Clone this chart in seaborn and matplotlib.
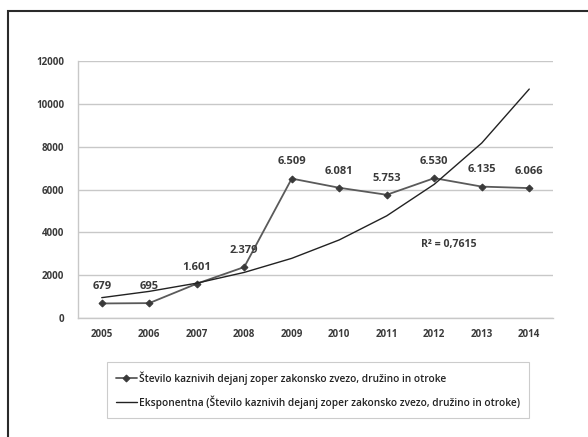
import numpy as np
import pandas as pd
import matplotlib.pyplot as plt
import seaborn as sns
from matplotlib.patches import Rectangle

# Data
years = ['2005', '2006', '2007', '2008', '2009', '2010', '2011', '2012', '2013', '2014']
cases = [679, 695, 1601, 2379, 6509, 6081, 5753, 6530, 6135, 6066]
case_labels = ['679', '695', '1.601', '2.379', '6.509', '6.081', '5.753', '6.530', '6.135', '6.066']
# exponential trendline values
trend = [950, 1243, 1627, 2129, 2786, 3646, 4771, 6243, 8170, 10690]
y_ticks = [0, 2000, 4000, 6000, 8000, 10000, 12000]
r2_text = 'R² = 0,7615'
series_name = 'Število kaznivih dejanj zoper zakonsko zvezo, družino in otroke'
trend_name = 'Eksponentna (Število kaznivih dejanj zoper zakonsko zvezo, družino in otroke)'

df = pd.DataFrame({'idx': range(len(years)), 'cases': cases, 'trend': trend})

sns.set_style('white')
plt.rcParams['font.family'] = ['Open Sans', 'DejaVu Sans']
text_col = '#3a3a3a'
grid_col = '#c8c8c8'

fig = plt.figure(figsize=(5.88, 4.37), dpi=100)
ax = fig.add_axes([78 / 588, 1 - 318 / 437, (553 - 78) / 588, (318 - 61) / 437])

sns.lineplot(data=df, x='idx', y='cases', ax=ax, color='#5a5a5a', lw=1.3,
             marker='D', markersize=3.5, markeredgecolor='#3a3a3a', markerfacecolor='#3a3a3a',
             label=series_name)
sns.lineplot(data=df, x='idx', y='trend', ax=ax, color='#222222', lw=1.0,
             label=trend_name)

for i, (v, t) in enumerate(zip(cases, case_labels)):
    ax.annotate(t, (i, v), xytext=(0, 8), textcoords='offset points', ha='center',
                va='bottom', fontsize=8, fontweight='bold', color=text_col)

ax.text(7.3, 3440, r2_text, ha='center', va='center', fontsize=7.6,
        fontweight='bold', color=text_col)

ax.set_xlim(-0.5, len(years) - 0.5)
ax.set_ylim(0, 12000)
ax.set_yticks(y_ticks)
ax.set_yticklabels([str(t) for t in y_ticks], fontsize=7, fontweight='bold', color=text_col)
ax.set_xticks(range(len(years)))
ax.set_xticklabels(years, fontsize=7, fontweight='bold', color=text_col)
ax.set_xticks(np.arange(-0.5, len(years)), minor=True)
ax.tick_params(axis='x', which='major', length=0, pad=8)
ax.tick_params(axis='x', which='minor', length=4, color=grid_col, direction='out')
ax.tick_params(axis='y', length=4, color=grid_col, pad=6)
ax.grid(axis='y', color=grid_col, lw=1)
ax.set_axisbelow(True)
ax.set_xlabel('')
ax.set_ylabel('')
for s in ['top', 'right']:
    ax.spines[s].set_visible(False)
for s in ['left', 'bottom']:
    ax.spines[s].set_color(grid_col)
    ax.spines[s].set_linewidth(1)

leg = ax.legend(loc='center', bbox_to_anchor=(318 / 588, 1 - 390 / 437),
                bbox_transform=fig.transFigure, fontsize=7.3, frameon=True,
                fancybox=False, handlelength=2.0, handletextpad=0.2,
                labelspacing=1.0, borderpad=0.9, borderaxespad=0)
leg.get_frame().set_edgecolor('#c0c0c0')
leg.get_frame().set_linewidth(0.8)
for t in leg.get_texts():
    t.set_color('#222222')
    t.set_fontweight('semibold')

# outer chart frame
fig.patches.append(Rectangle((8 / 588, -0.1), 2, 1.1 - 11 / 437, transform=fig.transFigure,
                             fill=False, edgecolor='#2a2a2a', lw=1.5, clip_on=False))

fig.savefig('out.png', dpi=100)
